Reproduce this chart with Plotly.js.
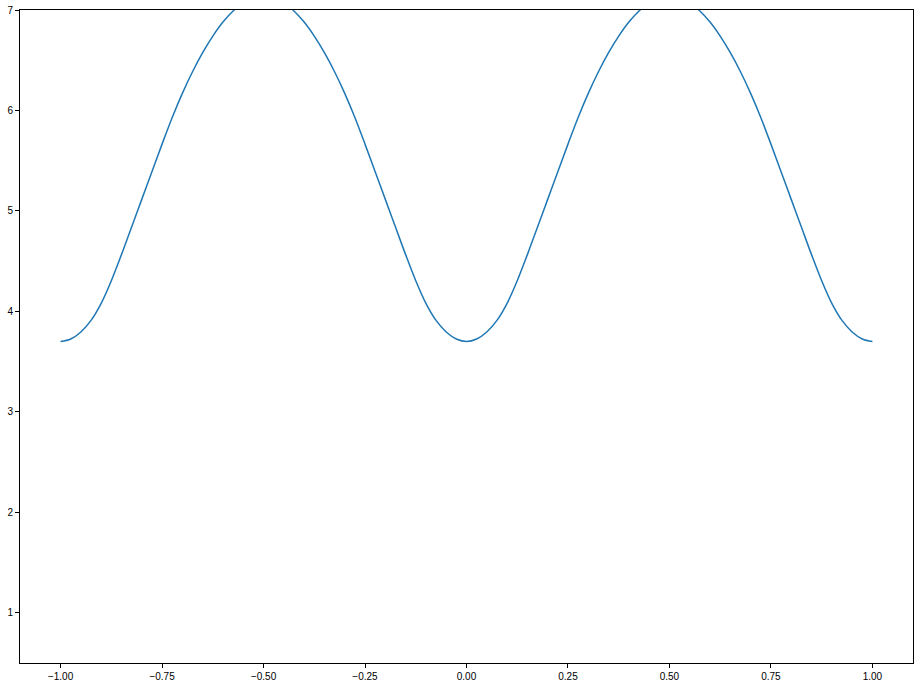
<!DOCTYPE html>
<html>
<head>
<meta charset="utf-8">
<script src="https://cdn.plot.ly/plotly-3.0.1.min.js"></script>
<style>
  html, body { margin: 0; padding: 0; background: #fff; }
  #chart { width: 919px; height: 686px; }
</style>
</head>
<body>
<div id="chart"></div>
<script>
// x positions of the curve samples
var xs = [
  -1.000, -0.975, -0.950, -0.925, -0.900, -0.875, -0.850, -0.825, -0.800, -0.775,
  -0.750, -0.725, -0.700, -0.675, -0.650, -0.625, -0.600, -0.575, -0.550, -0.525,
  -0.500, -0.475, -0.450, -0.425, -0.400, -0.375, -0.350, -0.325, -0.300, -0.275,
  -0.250, -0.225, -0.200, -0.175, -0.150, -0.125, -0.100, -0.075, -0.050, -0.025,
   0.000,  0.025,  0.050,  0.075,  0.100,  0.125,  0.150,  0.175,  0.200,  0.225,
   0.250,  0.275,  0.300,  0.325,  0.350,  0.375,  0.400,  0.425,  0.450,  0.475,
   0.500,  0.525,  0.550,  0.575,  0.600,  0.625,  0.650,  0.675,  0.700,  0.725,
   0.750,  0.775,  0.800,  0.825,  0.850,  0.875,  0.900,  0.925,  0.950,  0.975,
   1.000
];

// values (the tops are cut off at 7 in the original)
var ys = [
  3.700, 3.725, 3.795, 3.910, 4.080, 4.305, 4.565, 4.840, 5.115, 5.390,
  5.665, 5.930, 6.170, 6.385, 6.575, 6.740, 6.880, 6.990, 7.070, 7.120,
  7.140, 7.120, 7.070, 6.990, 6.880, 6.740, 6.575, 6.385, 6.170, 5.930,
  5.665, 5.390, 5.115, 4.840, 4.565, 4.305, 4.080, 3.910, 3.795, 3.725,
  3.700, 3.725, 3.795, 3.910, 4.080, 4.305, 4.565, 4.840, 5.115, 5.390,
  5.665, 5.930, 6.170, 6.385, 6.575, 6.740, 6.880, 6.990, 7.070, 7.120,
  7.140, 7.120, 7.070, 6.990, 6.880, 6.740, 6.575, 6.385, 6.170, 5.930,
  5.665, 5.390, 5.115, 4.840, 4.565, 4.305, 4.080, 3.910, 3.795, 3.725,
  3.700
];

var xTicks = [-1.0, -0.75, -0.5, -0.25, 0.0, 0.25, 0.5, 0.75, 1.0];
var yTicks = [1, 2, 3, 4, 5, 6, 7];

var axisStyle = {
  showline: true,
  mirror: true,
  linecolor: "#000",
  linewidth: 1,
  showgrid: false,
  zeroline: false,
  ticks: "outside",
  ticklen: 4,
  tickwidth: 1,
  tickcolor: "#000",
  tickfont: { family: "Liberation Sans, Arial, sans-serif", size: 10, color: "#000" }
};

var trace = {
  x: xs,
  y: ys,
  type: "scatter",
  mode: "lines",
  line: { color: "#1f77b4", width: 1.5, shape: "spline", smoothing: 1 },
  hoverinfo: "skip"
};

var layout = {
  width: 919,
  height: 686,
  margin: { l: 20, r: 6, t: 10, b: 23 },
  paper_bgcolor: "#fff",
  plot_bgcolor: "#fff",
  showlegend: false,
  xaxis: Object.assign({}, axisStyle, {
    range: [-1.1, 1.1],
    tickvals: xTicks,
    tickformat: ".2f"
  }),
  yaxis: Object.assign({}, axisStyle, {
    range: [0.5, 7],
    tickvals: yTicks
  })
};

Plotly.newPlot("chart", [trace], layout, { displayModeBar: false, staticPlot: true });
</script>
</body>
</html>
